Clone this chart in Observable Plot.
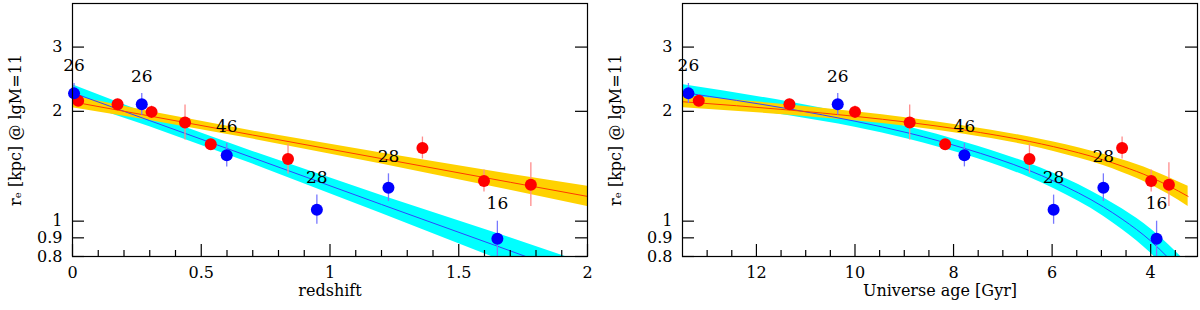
<!DOCTYPE html>
<html>
<head>
<meta charset="utf-8">
<script src="https://cdn.jsdelivr.net/npm/d3@7"></script>
<script src="https://cdn.jsdelivr.net/npm/@observablehq/plot@0.6"></script>
<style>
  html, body { margin: 0; padding: 0; background: white; }
  #wrap { display: flex; width: 1200px; height: 310px; }
</style>
</head>
<body>
<div id="wrap"></div>
<script>
// ---- data ----
const blueZ   = [0.006, 0.269, 0.599, 0.949, 1.227, 1.650];
const blueAge = [13.38, 10.35, 7.78, 5.97, 4.96, 3.88];
const blueR   = [2.24, 2.09, 1.516, 1.075, 1.235, 0.895];
const blueErr = [0.027, 0.030, 0.032, 0.040, 0.038, 0.048]; // dex
const blueN   = ["26", "26", "46", "28", "28", "16"];
const labelR  = [2.667, 2.487, 1.813, 1.313, 1.506, 1.117];

const redZ   = [0.022, 0.175, 0.307, 0.437, 0.537, 0.837, 1.359, 1.598, 1.780];
const redAge = [13.17, 11.33, 10.0, 8.89, 8.17, 6.46, 4.58, 3.99, 3.63];
const redR   = [2.137, 2.09, 1.993, 1.863, 1.625, 1.481, 1.587, 1.288, 1.259];
const redErr = [0.016, 0.014, 0.016, 0.048, 0.016, 0.041, 0.030, 0.030, 0.060]; // dex

// fits vs redshift
const fitZ        = [0, 0.3, 0.7, 1.2, 1.7, 2.0];
const fitBlueZ    = [2.25, 1.886, 1.492, 1.111, 0.829, 0.694];
const fitRedZ     = [2.124, 1.942, 1.722, 1.484, 1.278, 1.169];
const bandBlueZ   = [0.022, 0.0165, 0.0173, 0.0247, 0.0357, 0.0412]; // dex half-width
const bandRedZ    = [0.0165, 0.0124, 0.011, 0.0151, 0.022, 0.0275];

// fits vs universe age
const fitAge      = [13.48, 11.33, 10.0, 8.89, 7.78, 6.46, 5.97, 4.96, 4.58, 3.99, 3.63, 3.24];
const fitBlueAge  = [2.25, 2.030, 1.879, 1.741, 1.583, 1.376, 1.289, 1.094, 1.013, 0.880, 0.790, 0.694];
const fitRedAge   = [2.124, 2.016, 1.938, 1.864, 1.777, 1.654, 1.600, 1.472, 1.415, 1.318, 1.248, 1.169];
const bandBlueAge = [0.022, 0.0188, 0.0165, 0.0168, 0.0171, 0.0193, 0.0210, 0.0253, 0.0282, 0.0335, 0.0372, 0.0412];
const bandRedAge  = [0.0165, 0.0141, 0.0124, 0.0119, 0.0114, 0.0121, 0.0131, 0.0155, 0.0173, 0.0206, 0.0235, 0.0275];

const yTicks = [0.8, 0.9, 1, 2, 3];
const zMajor = [0, 0.5, 1, 1.5, 2];
const zMinor = [0.1,0.2,0.3,0.4,0.6,0.7,0.8,0.9,1.1,1.2,1.3,1.4,1.6,1.7,1.8,1.9];
const ageMajor = [12, 10, 8, 6, 4];
const ageMinor = [13,12.5,11.5,11,10.5,9.5,9,8.5,7.5,7,6.5,5.5,5,4.5,3.5];

const yLabel = "rₑ [kpc] @ lgM=11";

// ---- drawing ----
const H = 310, MT = 3, MB = 54;
const innerH = H - MT - MB;
const FONT = "DejaVu Serif";

function rows(xs, ys, extra = {}) {
  return xs.map((x, i) => {
    const o = {x, y: ys[i]};
    for (const k in extra) o[k] = extra[k][i];
    return o;
  });
}

function panel({blueX, redX, fitX, fitB, fitR, bandB, bandR, xDomain, major, minor,
                xLabel, ml, mr, curve}) {
  const W = 600;
  const innerW = W - ml - mr;
  const blue = rows(blueX, blueR, {e: blueErr, n: blueN, ly: labelR});
  const red = rows(redX, redR, {e: redErr});
  const fb = rows(fitX, fitB, {w: bandB});
  const fr = rows(fitX, fitR, {w: bandR});
  return Plot.plot({
    width: W, height: H,
    marginTop: MT, marginBottom: MB, marginLeft: ml, marginRight: mr,
    style: {fontFamily: FONT, fontSize: "16px", background: "white", color: "black"},
    x: {domain: xDomain, ticks: major, tickSize: 0, tickPadding: 10,
        tickFormat: d => String(d), label: null},
    y: {type: "log", domain: [0.8, 3.95], ticks: yTicks, tickSize: 0, tickPadding: 10,
        tickFormat: d => String(d), label: null},
    marks: [
      Plot.areaY(fb, {x: "x", y1: d => d.y * Math.pow(10, -d.w), y2: d => d.y * Math.pow(10, d.w),
        fill: "#00ffff", curve, clip: true}),
      Plot.areaY(fr, {x: "x", y1: d => d.y * Math.pow(10, -d.w), y2: d => d.y * Math.pow(10, d.w),
        fill: "#ffd200", curve, clip: true}),
      Plot.line(fb, {x: "x", y: "y", stroke: "#2f45ff", strokeWidth: 1, curve, clip: true}),
      Plot.line(fr, {x: "x", y: "y", stroke: "#ff3a00", strokeWidth: 1, curve, clip: true}),
      Plot.ruleX(red, {x: "x", y1: d => d.y * Math.pow(10, -d.e), y2: d => d.y * Math.pow(10, d.e),
        stroke: "#ff8c8c", strokeWidth: 1.3, clip: true}),
      Plot.ruleX(blue, {x: "x", y1: d => d.y * Math.pow(10, -d.e), y2: d => d.y * Math.pow(10, d.e),
        stroke: "#7878ff", strokeWidth: 1.3, clip: true}),
      Plot.dot(red, {x: "x", y: "y", r: 6, fill: "#ff0000"}),
      Plot.dot(blue, {x: "x", y: "y", r: 6, fill: "#0000ff"}),
      Plot.text(blue, {x: "x", y: "ly", text: "n", fontSize: 17, fill: "black"}),
      // inner ticks
      Plot.ruleX(major, {stroke: "black", strokeWidth: 1.2, insetTop: innerH - 12}),
      Plot.ruleX(minor, {stroke: "black", strokeWidth: 1.2, insetTop: innerH - 6}),
      Plot.ruleY(yTicks, {stroke: "black", strokeWidth: 1.2, insetRight: innerW - 12}),
      Plot.ruleY(yTicks, {stroke: "black", strokeWidth: 1.2, insetLeft: innerW - 12}),
      Plot.frame({stroke: "black", strokeWidth: 1.2}),
      Plot.text([xLabel], {text: d => d, frameAnchor: "bottom", dy: 39, fontSize: 16,
        letterSpacing: "1px"}),
      Plot.text([yLabel], {text: d => d, frameAnchor: "left", textAnchor: "middle",
        dx: -(ml - 15), rotate: -90, fontSize: 16, letterSpacing: "1px"})
    ]
  });
}

const left = panel({
  blueX: blueZ, redX: redZ, fitX: fitZ, fitB: fitBlueZ, fitR: fitRedZ,
  bandB: bandBlueZ, bandR: bandRedZ, xDomain: [0, 2], major: zMajor, minor: zMinor,
  xLabel: "redshift", ml: 72, mr: 13, curve: "linear"
});
const right = panel({
  blueX: blueAge, redX: redAge, fitX: fitAge, fitB: fitBlueAge, fitR: fitRedAge,
  bandB: bandBlueAge, bandR: bandRedAge, xDomain: [13.5, 3.05], major: ageMajor, minor: ageMinor,
  xLabel: "Universe age [Gyr]", ml: 82, mr: 3, curve: "monotone-x"
});
document.getElementById("wrap").append(left, right);
</script>
</body>
</html>
